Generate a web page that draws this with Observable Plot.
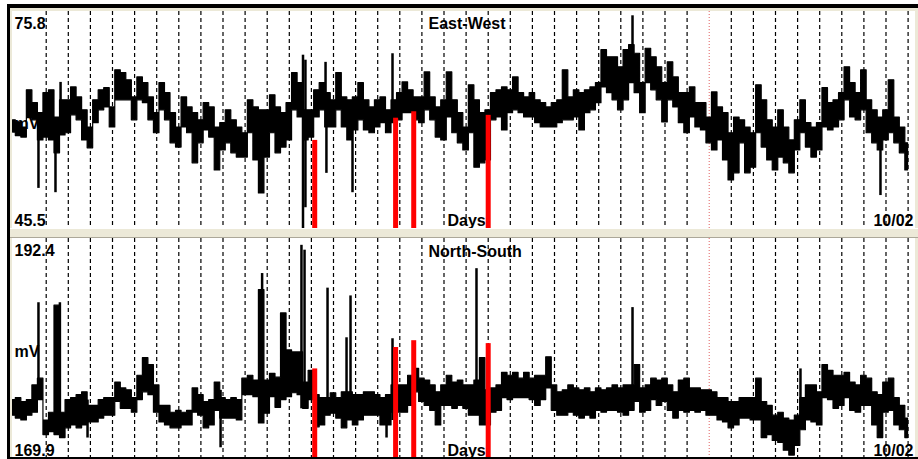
<!DOCTYPE html>
<html><head><meta charset="utf-8">
<script src="https://cdn.jsdelivr.net/npm/d3@7"></script>
<script src="https://cdn.jsdelivr.net/npm/@observablehq/plot@0.6"></script>
<style>
html,body{margin:0;padding:0;background:#fff;width:918px;height:459px;overflow:hidden}
#frame{position:absolute;left:7px;top:4px;width:911px;height:455px;box-sizing:border-box;background:#ece9d8;border-top:4px solid #000;border-left:3px solid #000;border-bottom:2px solid #000}
#sep{position:absolute;left:10px;top:228px;width:908px;height:10px;box-sizing:border-box;background:#ece9d8;border-top:1px solid #fff;border-bottom:1px solid #aca899}
.panel{position:absolute;left:12px;width:903px;background:#fff;overflow:hidden}
.panel svg{display:block}
</style></head>
<body>
<div id="frame"></div>
<div id="sep"></div>
<div id="ew" class="panel" style="top:11px;height:217px"></div>
<div id="ns" class="panel" style="top:238px;height:219px"></div>
<script>
// ---- time axis (days); grid lines at whole days ----
const xDomain = [-1.525, 39.335];
const gridDays = d3.range(0, 40);
const markerDay = 30;            // light red dotted day line
const sampleStart = -1.5;        // first sample (day)
const sampleStep = 0.25;         // samples every 6 hours

// ---- event bars (red) ----
const eventDays = [12.15, 15.81, 16.63, 20.0];

// ---- East-West channel ----
const ewTitle = "East-West";
const ewRange = [45.5, 75.8];
const ewRangeLabels = ["75.8", "45.5"];
const ewHigh = [
60.6,60.3,59.6,64.8,63.0,61.6,64.4,64.8,61.0,63.4,
63.4,65.2,63.8,62.0,59.6,63.4,64.8,65.1,62.4,67.6,
67.2,66.2,63.8,66.6,65.8,63.8,61.6,65.8,64.4,61.6,
59.6,63.8,62.4,61.6,60.6,63.0,62.4,59.6,60.2,62.0,
60.6,59.6,58.8,63.4,62.4,62.0,62.0,64.1,62.4,61.6,
63.0,67.2,65.8,62.0,62.0,64.8,65.8,64.4,63.4,67.2,
63.8,63.4,63.8,65.8,63.4,62.4,63.4,63.8,62.0,63.4,
64.4,65.9,64.8,63.8,63.8,67.3,63.8,62.4,63.4,67.3,
63.4,61.6,59.6,65.5,63.4,61.6,62.0,64.4,64.8,65.2,
64.8,66.6,64.4,63.8,64.4,63.4,63.0,62.4,63.0,63.4,
67.6,63.8,64.8,64.4,64.8,65.2,65.8,70.4,69.4,69.4,
68.0,70.4,71.1,69.9,65.8,70.6,69.4,68.0,65.8,68.7,
66.6,64.4,64.4,65.2,63.0,63.0,61.0,64.5,62.4,61.6,
58.8,61.0,60.6,59.6,58.8,65.5,63.4,60.6,59.6,62.0,
59.6,57.8,60.6,63.4,60.2,59.6,60.2,65.1,63.0,63.4,
64.4,68.0,65.8,64.4,67.6,63.4,62.0,61.0,62.0,66.2,
61.0,59.6,57.4];
const ewLow = [
58.9,58.4,58.2,60.9,60.6,57.8,58.2,57.8,56.0,58.5,
58.8,61.3,60.6,57.8,56.7,60.2,62.0,62.4,59.6,63.4,
63.4,63.4,60.6,63.4,63.0,60.6,58.8,62.0,60.6,57.4,
56.8,59.6,58.8,54.6,57.4,59.2,58.2,53.6,56.4,57.4,
56.0,55.4,55.4,58.8,55.0,50.4,55.4,58.8,56.0,56.8,
57.8,62.0,61.0,57.8,58.2,61.0,62.0,59.6,59.6,62.0,
59.6,57.8,59.2,60.6,59.2,58.8,59.6,60.2,58.8,60.2,
60.6,61.6,61.6,60.6,60.2,62.0,60.6,58.2,57.8,61.0,
58.8,57.4,56.4,58.8,54.0,54.6,55.0,60.6,61.0,59.2,
61.6,62.0,61.6,61.0,61.0,60.2,59.6,59.6,59.6,60.2,
60.6,60.6,61.0,59.2,61.6,62.0,63.0,65.2,64.4,63.4,
62.0,63.4,65.8,64.4,61.6,65.8,64.8,63.4,60.3,63.4,
62.4,60.2,58.8,61.0,59.6,59.2,57.4,56.4,57.8,55.0,
52.2,53.2,57.4,53.2,54.0,58.8,56.8,55.0,53.6,55.4,
54.6,53.2,56.4,58.8,56.8,55.4,56.4,59.6,59.2,59.6,
60.6,63.4,61.0,60.6,62.0,58.8,57.4,56.4,57.8,58.8,
57.4,56.0,53.6];
const ewSpikeDays = [-0.35, 0.42, 0.65, 11.62, 11.73, 12.64, 12.68, 13.86, 15.67, 26.53, 37.75];
const ewSpikeHigh = [60.6, 58.5, 65.9, 69.7, 69.0, 68.7, 61.0, 60.6, 69.9, 75.2, 57.8];
const ewSpikeLow  = [51.1, 50.5, 60.6, 45.5, 48.4, 62.0, 53.2, 50.5, 62.0, 69.0, 50.1];
const ewEventValues = [57.8, 60.9, 61.8, 61.3];

// ---- North-South channel ----
const nsTitle = "North-South";
const nsRange = [169.9, 192.4];
const nsRangeLabels = ["192.4", "169.9"];
const nsHigh = [
175.8,176.0,175.6,175.8,177.3,178.0,173.7,174.5,185.5,174.5,
175.8,176.0,176.3,176.6,175.2,175.2,175.8,176.0,176.0,177.6,
177.0,176.8,176.0,178.3,180.1,179.4,177.3,175.2,175.2,174.5,
174.7,174.5,174.7,177.0,176.3,175.6,175.8,177.6,176.0,175.8,
176.0,175.8,178.0,178.3,177.8,187.1,177.8,178.5,178.1,184.7,
180.9,180.7,180.7,177.6,178.8,176.3,176.0,176.0,176.5,176.0,
176.6,176.6,176.3,176.3,176.6,176.6,176.3,176.0,176.3,177.3,
177.3,177.3,178.3,179.0,178.0,177.8,177.3,176.6,177.3,178.3,
177.6,177.8,177.3,177.3,177.8,180.1,176.8,177.0,177.3,178.6,
178.3,178.6,178.0,178.6,178.0,178.3,178.3,180.2,177.3,176.6,
176.8,177.3,177.0,176.8,177.0,176.6,177.0,176.8,177.0,177.3,
177.0,177.3,177.3,179.4,177.0,177.3,178.0,177.8,178.0,177.3,
176.6,177.8,178.0,177.0,177.0,176.8,176.8,176.6,176.0,176.0,
175.6,175.6,176.0,176.0,176.0,178.0,175.6,175.2,174.2,174.5,
173.9,173.7,174.2,176.0,177.3,177.3,176.6,179.4,178.8,178.3,
178.3,178.6,177.6,177.3,178.3,178.0,176.6,176.3,177.6,178.0,
176.0,175.2,173.9];
const nsLow = [
174.2,173.9,173.7,174.2,174.5,175.8,172.2,172.5,172.2,171.9,
172.9,173.2,172.9,173.2,173.5,173.5,173.9,174.2,174.2,175.6,
174.9,174.9,174.5,175.8,176.6,176.3,174.5,173.5,173.2,172.9,
172.9,173.2,173.2,174.5,174.2,172.9,173.2,174.7,173.9,173.9,
173.9,173.7,176.3,176.3,176.1,173.4,174.4,176.1,175.0,175.8,
176.1,176.5,176.3,174.9,175.8,173.0,173.2,174.2,174.4,173.9,
172.9,173.7,173.2,173.7,174.2,174.2,174.2,173.2,173.2,174.5,
174.5,174.5,175.2,176.6,175.6,175.2,174.7,173.2,175.2,175.2,
174.9,175.2,174.9,174.2,174.2,173.2,173.2,174.5,174.7,176.0,
175.8,176.0,176.0,176.0,175.8,175.2,175.8,177.0,174.7,174.2,
174.2,174.5,174.2,173.9,174.2,173.9,174.7,174.5,174.7,174.7,
174.5,174.2,174.7,175.6,174.5,174.7,175.8,175.2,175.6,174.7,
173.9,174.7,174.5,174.7,174.5,174.7,174.2,174.2,173.7,173.5,
172.9,173.2,173.9,173.9,173.7,173.7,171.9,172.2,171.6,171.4,
170.6,170.1,171.1,172.7,173.7,173.5,173.2,176.0,175.8,174.9,
175.2,176.0,174.7,174.5,175.2,175.2,173.2,171.9,174.5,174.7,
173.2,172.7,171.9];
const nsSpikeDays = [-0.35, 0.62, 1.87, 7.89, 9.77, 11.55, 11.69, 12.73, 13.59, 13.77, 15.40, 15.67, 19.47, 26.53, 34.13, 37.80];
const nsSpikeHigh = [185.8, 185.8, 175.8, 176.8, 188.8, 191.7, 191.2, 187.3, 182.2, 186.5, 175.8, 182.1, 189.3, 185.3, 179.0, 174.7];
const nsSpikeLow  = [175.8, 172.7, 171.9, 170.9, 173.7, 174.9, 175.8, 174.5, 175.8, 176.0, 171.9, 173.7, 175.8, 175.8, 173.7, 171.9];
const nsEventValues = [179.0, 181.2, 181.9, 181.6];

const unitLabel = "mV";
const axisLabel = "Days";
const endLabel = "10/02";

const FONT = "'Liberation Sans', Arial, sans-serif";

function panel(o) {
  const rows = o.high.map((h, i) => ({day: sampleStart + i * sampleStep, hi: h, lo: o.low[i]}));
  const spikes = o.spikeDays.map((d, i) => ({day: d, hi: o.spikeHigh[i], lo: o.spikeLow[i]}));
  const events = eventDays.map((d, i) => ({day: d, base: o.range[0], v: o.eventValues[i]}));
  const txt = (label, opts) => Plot.text([label], {text: d => d, fontSize: 16, fontWeight: "bold", fill: "#000", ...opts});
  return Plot.plot({
    width: 903, height: o.height, margin: 0,
    x: {domain: xDomain, axis: null},
    y: {domain: o.range, axis: null},
    style: {background: "#fff", fontFamily: FONT},
    marks: [
      Plot.ruleX(gridDays.filter(d => d !== markerDay), {x: d => d, stroke: "#000", strokeWidth: 1.2, strokeDasharray: "4,3"}),
      Plot.ruleX([markerDay], {x: d => d, stroke: "#e06060", strokeWidth: 1, strokeDasharray: "1,2"}),
      txt(o.rangeLabels[0], {frameAnchor: "top-left", textAnchor: "start", lineAnchor: "top", dx: 2, dy: 6}),
      txt(o.rangeLabels[1], {frameAnchor: "bottom-left", textAnchor: "start", lineAnchor: "bottom", dx: 2, dy: o.bottomDy}),
      txt(unitLabel, {frameAnchor: "left", textAnchor: "start", lineAnchor: "middle", dx: 2, dy: 4}),
      txt(o.title, {frameAnchor: "top-left", textAnchor: "start", lineAnchor: "top", dx: 416, dy: o.titleDy}),
      txt(axisLabel, {frameAnchor: "bottom-left", textAnchor: "start", lineAnchor: "bottom", dx: 435, dy: o.bottomDy}),
      txt(endLabel, {frameAnchor: "bottom-right", textAnchor: "end", lineAnchor: "bottom", dx: -2, dy: o.bottomDy}),
      Plot.areaY(rows, {x: "day", y1: "lo", y2: "hi", curve: "step", fill: "#000", stroke: "#000", strokeWidth: 1.2}),
      Plot.ruleX(spikes, {x: "day", y1: "lo", y2: "hi", stroke: "#000", strokeWidth: 2.5}),
      Plot.ruleX(events, {x: "day", y1: "base", y2: "v", stroke: "#f00", strokeWidth: 5})
    ]
  });
}

document.getElementById("ew").appendChild(panel({
  height: 217, range: ewRange, rangeLabels: ewRangeLabels, title: ewTitle, titleDy: 6, bottomDy: -3,
  high: ewHigh, low: ewLow, spikeDays: ewSpikeDays, spikeHigh: ewSpikeHigh, spikeLow: ewSpikeLow,
  eventValues: ewEventValues
}));
document.getElementById("ns").appendChild(panel({
  height: 219, range: nsRange, rangeLabels: nsRangeLabels, title: nsTitle, titleDy: 7, bottomDy: -2,
  high: nsHigh, low: nsLow, spikeDays: nsSpikeDays, spikeHigh: nsSpikeHigh, spikeLow: nsSpikeLow,
  eventValues: nsEventValues
}));
</script>
</body></html>
